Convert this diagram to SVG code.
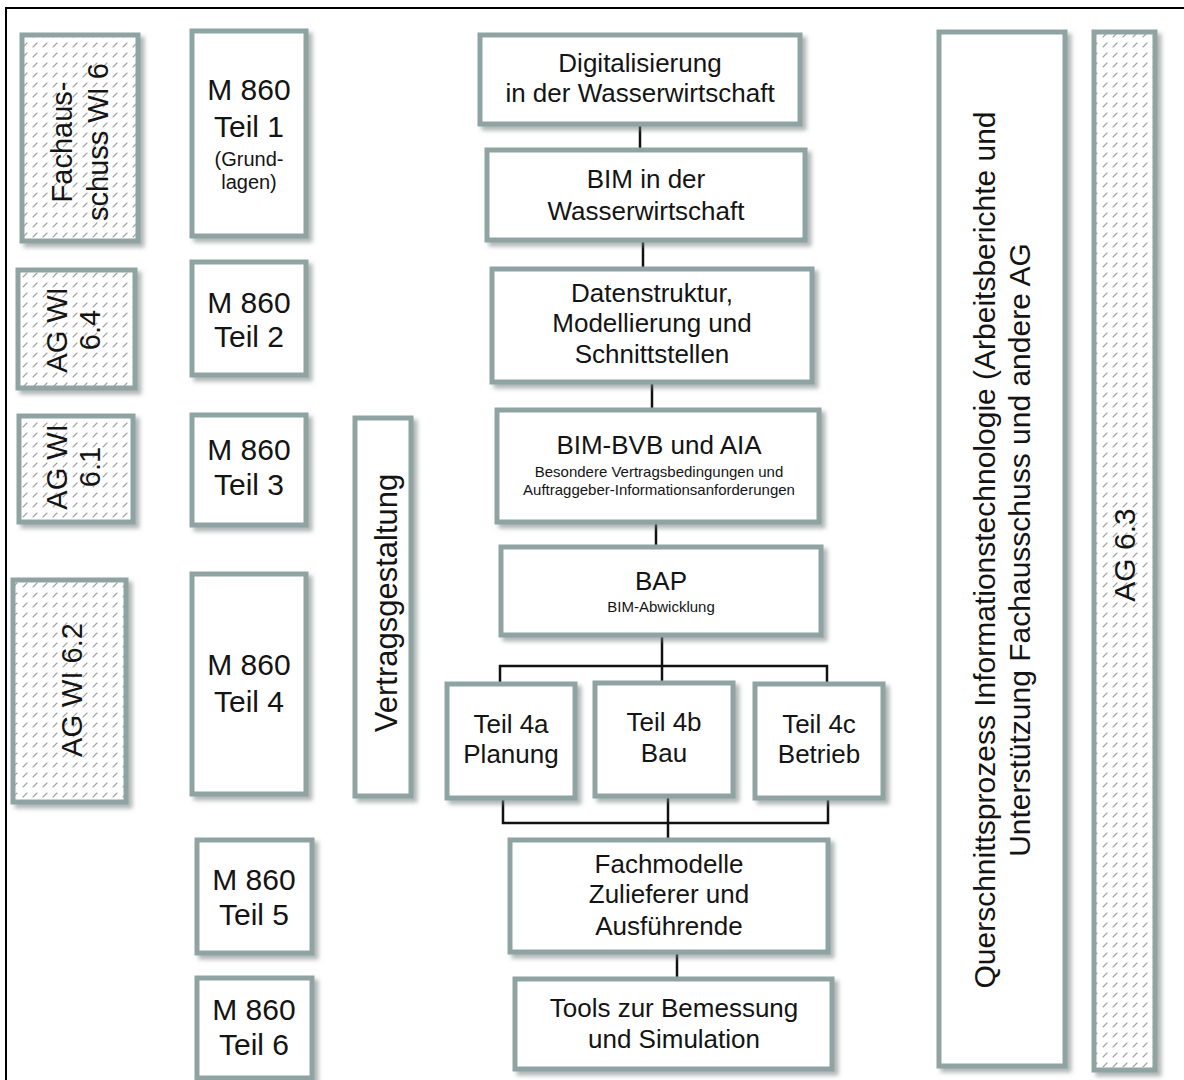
<svg xmlns="http://www.w3.org/2000/svg" width="1184" height="1080" viewBox="0 0 1184 1080">
  <style>
    .box { fill: #ffffff; stroke: #8fa3a3; stroke-width: 5; filter: url(#shadow); }
    .hatched { fill: url(#hatch); stroke: #8fa3a3; stroke-width: 5; filter: url(#shadow); }
    .t { font-family: "Liberation Sans", Arial, sans-serif; fill: #141414; text-anchor: middle; }
    .m { font-size: 26px; }
    .s { font-size: 15px; }
    .l { font-size: 30px; }
    .g { font-size: 29px; }
    .link { fill: none; stroke: #111111; stroke-width: 2.5; }
  </style>
  <defs>
    <filter id="shadow" x="-10%" y="-10%" width="130%" height="130%">
      <feDropShadow dx="4" dy="4" stdDeviation="2" flood-color="#6f7a7a" flood-opacity="0.55"/>
    </filter>
    <pattern id="hatch" width="10" height="10" patternUnits="userSpaceOnUse">
      <rect width="10" height="10" fill="#ffffff"/>
      <path d="M3 7 L7 3" stroke="#a2a2a2" stroke-width="1.1" stroke-linecap="round"/>
    </pattern>
  </defs>

  <rect width="1184" height="1080" fill="#ffffff"/>
  <!-- frame -->
  <rect x="6" y="8" width="1200" height="1100" fill="none" stroke="#000000" stroke-width="2"/>

  <!-- working groups (hatched) -->
  <g id="fachausschuss-wi6">
    <rect class="hatched" x="22" y="35" width="116" height="206"/>
    <text class="t g" transform="translate(72,142) rotate(-90)"><tspan x="0" y="0">Fachaus-</tspan><tspan x="0" y="36">schuss WI 6</tspan></text>
  </g>
  <g id="ag-wi-6-4">
    <rect class="hatched" x="18" y="270" width="117" height="118"/>
    <text class="t g" transform="translate(67,330) rotate(-90)"><tspan x="0" y="0">AG WI</tspan><tspan x="0" y="33">6.4</tspan></text>
  </g>
  <g id="ag-wi-6-1">
    <rect class="hatched" x="19" y="416" width="114" height="106"/>
    <text class="t g" transform="translate(67,467) rotate(-90)"><tspan x="0" y="0">AG WI</tspan><tspan x="0" y="33">6.1</tspan></text>
  </g>
  <g id="ag-wi-6-2">
    <rect class="hatched" x="13" y="580" width="113" height="222"/>
    <text class="t g" transform="translate(82,690) rotate(-90)">AG WI 6.2</text>
  </g>

  <!-- M 860 parts -->
  <g id="m860-teil1">
    <rect class="box" x="192" y="31" width="114" height="205"/>
    <text class="t l" x="249" y="100">M 860</text>
    <text class="t l" x="249" y="137">Teil 1</text>
    <text class="t" style="font-size:20px" x="249" y="166">(Grund-</text>
    <text class="t" style="font-size:20px" x="249" y="189">lagen)</text>
  </g>
  <g id="m860-teil2">
    <rect class="box" x="192" y="262" width="114" height="113"/>
    <text class="t l" x="249" y="313">M 860</text>
    <text class="t l" x="249" y="347">Teil 2</text>
  </g>
  <g id="m860-teil3">
    <rect class="box" x="192" y="415" width="114" height="110"/>
    <text class="t l" x="249" y="460">M 860</text>
    <text class="t l" x="249" y="495">Teil 3</text>
  </g>
  <g id="m860-teil4">
    <rect class="box" x="192" y="574" width="114" height="220"/>
    <text class="t l" x="249" y="675">M 860</text>
    <text class="t l" x="249" y="712">Teil 4</text>
  </g>
  <g id="m860-teil5">
    <rect class="box" x="197" y="840" width="115" height="113"/>
    <text class="t l" x="254" y="890">M 860</text>
    <text class="t l" x="254" y="925">Teil 5</text>
  </g>
  <g id="m860-teil6">
    <rect class="box" x="197" y="978" width="115" height="100"/>
    <text class="t l" x="254" y="1020">M 860</text>
    <text class="t l" x="254" y="1055">Teil 6</text>
  </g>

  <g id="vertragsgestaltung">
    <rect class="box" x="355" y="418" width="56" height="378"/>
    <text class="t" style="font-size:31px" transform="translate(397,603) rotate(-90)">Vertragsgestaltung</text>
  </g>

  <!-- connectors -->
  <g id="connectors">
    <path class="link" d="M640 124 V150"/>
    <path class="link" d="M643 240 V269"/>
    <path class="link" d="M652 382 V410"/>
    <path class="link" d="M656 522 V547"/>
    <path class="link" d="M662 635 V683"/>
    <path class="link" d="M500 684 V666 H827 V684"/>
    <path class="link" d="M503 798 V823 H828 V798"/>
    <path class="link" d="M668 796 V840"/>
    <path class="link" d="M677 952 V979"/>
  </g>

  <!-- main chain -->
  <g id="digitalisierung">
    <rect class="box" x="480" y="35" width="320" height="89"/>
    <text class="t m" x="640" y="72">Digitalisierung</text>
    <text class="t m" x="640" y="102">in der Wasserwirtschaft</text>
  </g>
  <g id="bim-wasserwirtschaft">
    <rect class="box" x="487" y="150" width="318" height="90"/>
    <text class="t m" x="646" y="188">BIM in der</text>
    <text class="t m" x="646" y="220">Wasserwirtschaft</text>
  </g>
  <g id="datenstruktur">
    <rect class="box" x="492" y="269" width="320" height="113"/>
    <text class="t m" x="652" y="302">Datenstruktur,</text>
    <text class="t m" x="652" y="332">Modellierung und</text>
    <text class="t m" x="652" y="363">Schnittstellen</text>
  </g>
  <g id="bim-bvb-aia">
    <rect class="box" x="497" y="410" width="322" height="112"/>
    <text class="t m" x="659" y="454">BIM-BVB und AIA</text>
    <text class="t s" x="659" y="477">Besondere Vertragsbedingungen und</text>
    <text class="t s" x="659" y="495">Auftraggeber-Informationsanforderungen</text>
  </g>
  <g id="bap">
    <rect class="box" x="501" y="547" width="320" height="88"/>
    <text class="t m" x="661" y="590">BAP</text>
    <text class="t s" x="661" y="612">BIM-Abwicklung</text>
  </g>
  <g id="teil-4a">
    <rect class="box" x="447" y="684" width="128" height="114"/>
    <text class="t m" x="511" y="733">Teil 4a</text>
    <text class="t m" x="511" y="763">Planung</text>
  </g>
  <g id="teil-4b">
    <rect class="box" x="595" y="683" width="138" height="113"/>
    <text class="t m" x="664" y="731">Teil 4b</text>
    <text class="t m" x="664" y="762">Bau</text>
  </g>
  <g id="teil-4c">
    <rect class="box" x="755" y="684" width="128" height="114"/>
    <text class="t m" x="819" y="733">Teil 4c</text>
    <text class="t m" x="819" y="763">Betrieb</text>
  </g>
  <g id="fachmodelle">
    <rect class="box" x="510" y="840" width="318" height="112"/>
    <text class="t m" x="669" y="873">Fachmodelle</text>
    <text class="t m" x="669" y="903">Zulieferer und</text>
    <text class="t m" x="669" y="935">Ausführende</text>
  </g>
  <g id="tools">
    <rect class="box" x="515" y="979" width="317" height="90"/>
    <text class="t m" x="674" y="1017">Tools zur Bemessung</text>
    <text class="t m" x="674" y="1048">und Simulation</text>
  </g>

  <!-- cross-cutting process -->
  <g id="querschnittsprozess">
    <rect class="box" x="939" y="32" width="126" height="1034"/>
    <text class="t l" transform="translate(995,550) rotate(-90)"><tspan x="0" y="0">Querschnittsprozess Informationstechnologie (Arbeitsberichte und</tspan><tspan x="0" y="35">Unterstützung Fachausschuss und andere AG</tspan></text>
  </g>
  <g id="ag-6-3">
    <rect class="hatched" x="1094" y="32" width="61" height="1038"/>
    <text class="t l" transform="translate(1135,555) rotate(-90)">AG 6.3</text>
  </g>
</svg>
